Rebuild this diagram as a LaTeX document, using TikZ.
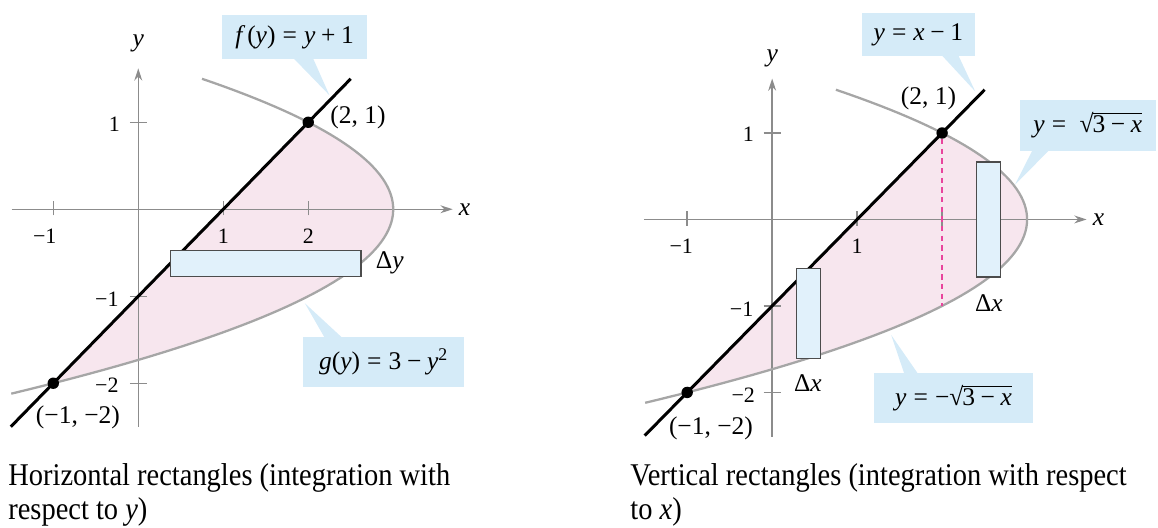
\documentclass[tikz,border=0pt]{standalone}
\usepackage{fontspec}
\setmainfont{Liberation Serif}
\newfontfamily\capfont[FakeStretch=0.9]{Liberation Serif}
\usetikzlibrary{arrows.meta,positioning,calc}
\definecolor{areaPink}{HTML}{F7E6EE}
\definecolor{calloutBlue}{HTML}{D5EBF8}
\definecolor{stripBlue}{HTML}{E1F1FB}
\definecolor{curveGray}{HTML}{A6A6A6}
\definecolor{axisGray}{HTML}{8C8C8C}
\definecolor{dashPink}{HTML}{E8449C}
\newcommand\vx{\textit{x}}
\newcommand\vy{\textit{y}}
\newcommand\eqs{\hspace{0.28em}=\hspace{0.28em}}
\newcommand\mns{\hspace{0.22em}−\hspace{0.22em}}
\newcommand\pls{\hspace{0.22em}+\hspace{0.22em}}
\newcommand\rootof[1]{√\kern-0.6pt$\overline{\hbox{#1}}$}

\tikzset{
  axis/.style={axisGray,line width=0.8pt},
  axisarrow/.style={axis,-{Stealth[length=7pt,width=4.5pt]}},
  curve/.style={curveGray,line width=1.3pt},
  bound/.style={black,line width=1.7pt},
  strip/.style={draw=black!70,fill=stripBlue,line width=0.7pt,inner sep=0pt},
  dot/.style={circle,fill=black,inner sep=0pt,minimum size=6.5pt},
  ticklab/.style={font=\fontsize{12.5}{14}\selectfont,inner sep=0pt},
  lab/.style={font=\fontsize{14.5}{17}\selectfont,inner sep=0pt},
  callout/.style={fill=calloutBlue,inner sep=0pt,font=\fontsize{14.5}{17}\selectfont},
  caption/.style={font=\capfont\fontsize{18}{21}\selectfont,inner sep=0pt,anchor=base west}
}

\begin{document}
\begin{tikzpicture}[x=0.02cm,y=-0.02cm]
\useasboundingbox (0,0) rectangle (1158,527);

\begin{scope}[xshift=2.766cm,yshift=-4.186cm,x=1.70cm,y=1.74cm]
\fill[areaPink] plot[domain=-2:1,samples=60] ({3-\x*\x},\x) -- cycle;
\node[callout,minimum width=2.89cm,minimum height=0.87cm] (fbox) at (1.84,1.98) {\textit{f}\kern1pt(\vy)\eqs\vy\pls 1};
\coordinate (ftip) at (2.25,1.31);
\fill[calloutBlue] ([xshift=-0.04cm,yshift=1pt]fbox.south) -- (ftip) -- ([xshift=0.36cm,yshift=1pt]fbox.south) -- cycle;
\node[callout,minimum width=3.21cm,minimum height=0.99cm] (gbox) at (2.887,-1.755) {\textit{g}(\vy)\eqs 3\mns\vy\textsuperscript{2}};
\coordinate (gtip) at (1.96,-1.08);
\fill[calloutBlue] ([xshift=-1.17cm,yshift=-1pt]gbox.north) -- (gtip) -- ([xshift=-0.81cm,yshift=-1pt]gbox.north) -- cycle;
\draw[axisarrow] (-1.49,0) -- (3.70,0);
\draw[axisarrow] (0,-2.50) -- (0,1.62);
\foreach \t in {-1,1,2}
  \draw[axis] (\t,-0.07) -- (\t,0.1);
\foreach \t in {-2,-1,1}
  \draw[axis] (-0.1,\t) -- (0.1,\t);
\node[ticklab] (Lxm1) at (-1.10,-0.315) {−1};
\foreach \t/\n in {1/a,2/b}
  \node[ticklab] (Lx\n) at (\t,-0.315) {\t};
\node[ticklab] (Ly1) at (-0.28,0.98) {1};
\node[ticklab] (Lym1) at (-0.37,-1.03) {−1};
\node[ticklab] (Lym2) at (-0.37,-2.02) {−2};
\node[lab] (Lxlab) at (3.84,0) {\vx};
\node[lab] (Lylab) at (0,1.91) {\vy};
\draw[curve] plot[domain=-2.12:1.5,samples=80] ({3-\x*\x},\x);
\draw[bound] (-1.5,-2.5) -- (2.5,1.5);
\node[strip,minimum width=3.81cm,minimum height=0.52cm] (hstrip) at (1.5,-0.62) {};
\node[lab] (dy) at (2.96,-0.62) {Δ\vy};
\node[dot] (LpA) at (2,1) {};
\node[dot] (LpB) at (-1,-2) {};
\node[lab] (LpAlab) at (2.585,1.06) {(2, 1)};
\node[lab] (LpBlab) at (-0.71,-2.39) {(−1, −2)};
\end{scope}

\begin{scope}[xshift=15.446cm,yshift=-4.39cm,x=1.70cm,y=1.73cm]
\fill[areaPink] plot[domain=-2:1,samples=60] ({3-\x*\x},\x) -- cycle;
\node[callout,minimum width=2.26cm,minimum height=0.85cm] (lbox) at (1.72,2.14) {\vy\eqs\vx\mns 1};
\coordinate (ltip) at (2.39,1.48);
\fill[calloutBlue] ([xshift=0.45cm,yshift=1pt]lbox.south) -- (ltip) -- ([xshift=0.79cm,yshift=1pt]lbox.south) -- cycle;
\node[callout,minimum width=2.72cm,minimum height=1.02cm] (ubox) at (3.714,1.087) {\vy\eqs\ \rootof{3\mns\vx}};
\coordinate (utip) at (2.856,0.40);
\fill[calloutBlue] ([xshift=-1.1cm,yshift=1pt]ubox.south) -- (utip) -- ([xshift=-0.76cm,yshift=1pt]ubox.south) -- cycle;
\node[callout,minimum width=3.19cm,minimum height=1.0cm] (dbox) at (2.135,-2.067) {\vy\eqs−\rootof{3\mns\vx}};
\coordinate (dtip) at (1.40,-1.335);
\fill[calloutBlue] ([xshift=-0.98cm,yshift=-1pt]dbox.north) -- (dtip) -- ([xshift=-0.70cm,yshift=-1pt]dbox.north) -- cycle;
\draw[axisarrow] (-1.51,0) -- (3.70,0);
\draw[axisarrow] (0,-2.51) -- (0,1.63);
\foreach \t in {-1,1,2}
  \draw[axis] (\t,-0.07) -- (\t,0.1);
\foreach \t in {-2,-1,1}
  \draw[axis] (-0.1,\t) -- (0.1,\t);
\node[ticklab] (Rxm1) at (-1.07,-0.31) {−1};
\node[ticklab] (Rx1) at (1.0,-0.31) {1};
\node[ticklab] (Ry1) at (-0.28,0.98) {1};
\node[ticklab] (Rym1) at (-0.36,-1.04) {−1};
\node[ticklab] (Rym2) at (-0.34,-2.03) {−2};
\node[lab] (Rxlab) at (3.84,0) {\vx};
\node[lab] (Rylab) at (0,1.86) {\vy};
\draw[curve] plot[domain=-2.12:1.5,samples=80] ({3-\x*\x},\x);
\draw[bound] (-1.5,-2.5) -- (2.5,1.5);
\node[dot] (RpA) at (2,1) {};
\coordinate (RpAfoot) at (2,-1);
\draw[dashPink,line width=0.8pt,dash pattern=on 3pt off 2.5pt] (RpA) -- (RpAfoot);
\node[strip,minimum width=0.48cm,minimum height=1.80cm] (vstripA) at (0.43,-1.085) {};
\node[strip,minimum width=0.48cm,minimum height=2.30cm] (vstripB) at (2.55,0) {};
\node[lab] (dxA) at (0.42,-1.89) {Δ\vx};
\node[lab] (dxB) at (2.55,-0.97) {Δ\vx};
\node[dot] (RpB) at (-1,-2) {};
\node[lab] (RpAlab) at (1.84,1.40) {(2, 1)};
\node[lab] (RpBlab) at (-0.72,-2.41) {(−1, −2)};
\end{scope}

\node[caption] (capL1) at (8,485) {Horizontal rectangles (integration with};
\node[caption] (capL2) at (8,519) {respect to \textit{y})};
\node[caption] (capR1) at (630,485) {Vertical rectangles (integration with respect};
\node[caption] (capR2) at (630,519) {to \textit{x})};
\end{tikzpicture}
\end{document}
